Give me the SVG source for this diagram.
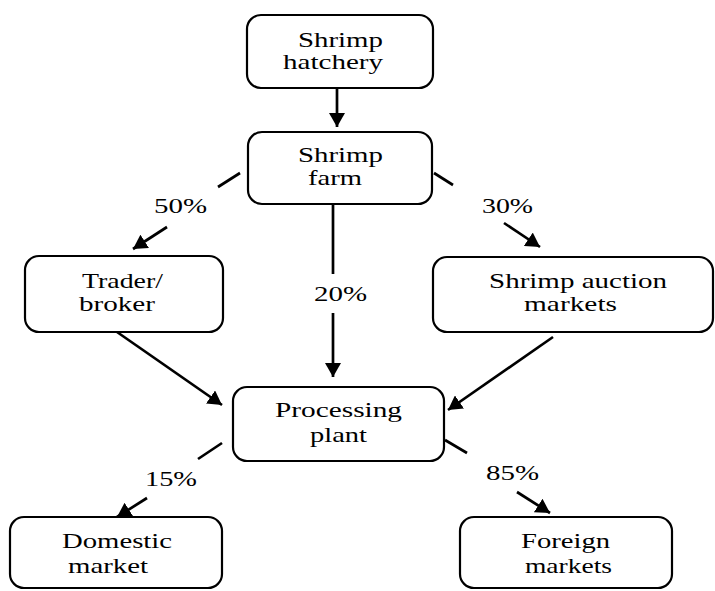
<svg xmlns="http://www.w3.org/2000/svg" width="715" height="591" viewBox="0 0 715 591">
<style>
.box{fill:#fff;stroke:#000;stroke-width:2.2}
.t{font-size:21px;fill:#000}
.c{stroke:#000;stroke-width:2.7;fill:none}
</style>
<defs>
<marker id="ah" markerUnits="userSpaceOnUse" markerWidth="15" markerHeight="16" refX="14" refY="8" orient="auto">
<path d="M0,0 L14,8 L0,16 Z" fill="#000"/>
</marker>
</defs>
<rect width="715" height="591" fill="#fff"/>
<g font-family="Liberation Serif, DejaVu Serif, serif">
<g id="connectors">
<line class="c" x1="337" y1="88" x2="337" y2="127" marker-end="url(#ah)"/>
<line class="c" x1="240" y1="173" x2="218" y2="187"/>
<line class="c" x1="167" y1="227" x2="133" y2="249" marker-end="url(#ah)"/>
<line class="c" x1="333" y1="205" x2="333" y2="274"/>
<line class="c" x1="333" y1="313" x2="333" y2="377" marker-end="url(#ah)"/>
<line class="c" x1="434" y1="173" x2="453" y2="185"/>
<line class="c" x1="504" y1="223" x2="540" y2="247" marker-end="url(#ah)"/>
<line class="c" x1="117" y1="332" x2="222" y2="405" marker-end="url(#ah)"/>
<line class="c" x1="553" y1="337" x2="448" y2="410" marker-end="url(#ah)"/>
<line class="c" x1="222" y1="443" x2="198" y2="459"/>
<line class="c" x1="147" y1="498" x2="117" y2="517" marker-end="url(#ah)"/>
<line class="c" x1="445" y1="440" x2="467" y2="453"/>
<line class="c" x1="517" y1="492" x2="550" y2="513" marker-end="url(#ah)"/>
<text class="t" x="154" y="213" textLength="53" lengthAdjust="spacingAndGlyphs">50%</text>
<text class="t" x="314" y="301" textLength="53" lengthAdjust="spacingAndGlyphs">20%</text>
<text class="t" x="482" y="213" textLength="51" lengthAdjust="spacingAndGlyphs">30%</text>
<text class="t" x="145" y="486" textLength="52" lengthAdjust="spacingAndGlyphs">15%</text>
<text class="t" x="486" y="480" textLength="53" lengthAdjust="spacingAndGlyphs">85%</text>
</g>
<g id="hatchery">
<rect class="box" x="247" y="15" width="186" height="73" rx="14"/>
<text class="t" x="298" y="47" textLength="85" lengthAdjust="spacingAndGlyphs">Shrimp</text>
<text class="t" x="283" y="69" textLength="100" lengthAdjust="spacingAndGlyphs">hatchery</text>
</g>
<g id="farm">
<rect class="box" x="248" y="132" width="184" height="72" rx="14"/>
<text class="t" x="298" y="162" textLength="85" lengthAdjust="spacingAndGlyphs">Shrimp</text>
<text class="t" x="308" y="185" textLength="54" lengthAdjust="spacingAndGlyphs">farm</text>
</g>
<g id="trader">
<rect class="box" x="25" y="256" width="198" height="76" rx="14"/>
<text class="t" x="82" y="288" textLength="81" lengthAdjust="spacingAndGlyphs">Trader/</text>
<text class="t" x="79" y="311" textLength="76" lengthAdjust="spacingAndGlyphs">broker</text>
</g>
<g id="auction">
<rect class="box" x="433" y="257" width="280" height="75" rx="14"/>
<text class="t" x="489" y="288" textLength="178" lengthAdjust="spacingAndGlyphs">Shrimp auction</text>
<text class="t" x="524" y="311" textLength="93" lengthAdjust="spacingAndGlyphs">markets</text>
</g>
<g id="processing">
<rect class="box" x="233" y="387" width="211" height="74" rx="14"/>
<text class="t" x="275" y="417" textLength="127" lengthAdjust="spacingAndGlyphs">Processing</text>
<text class="t" x="310" y="442" textLength="57" lengthAdjust="spacingAndGlyphs">plant</text>
</g>
<g id="domestic">
<rect class="box" x="10" y="517" width="212" height="71" rx="14"/>
<text class="t" x="62" y="548" textLength="110" lengthAdjust="spacingAndGlyphs">Domestic</text>
<text class="t" x="68" y="573" textLength="80" lengthAdjust="spacingAndGlyphs">market</text>
</g>
<g id="foreign">
<rect class="box" x="460" y="517" width="212" height="71" rx="14"/>
<text class="t" x="521" y="548" textLength="89" lengthAdjust="spacingAndGlyphs">Foreign</text>
<text class="t" x="525" y="573" textLength="87" lengthAdjust="spacingAndGlyphs">markets</text>
</g>
</g>
</svg>
